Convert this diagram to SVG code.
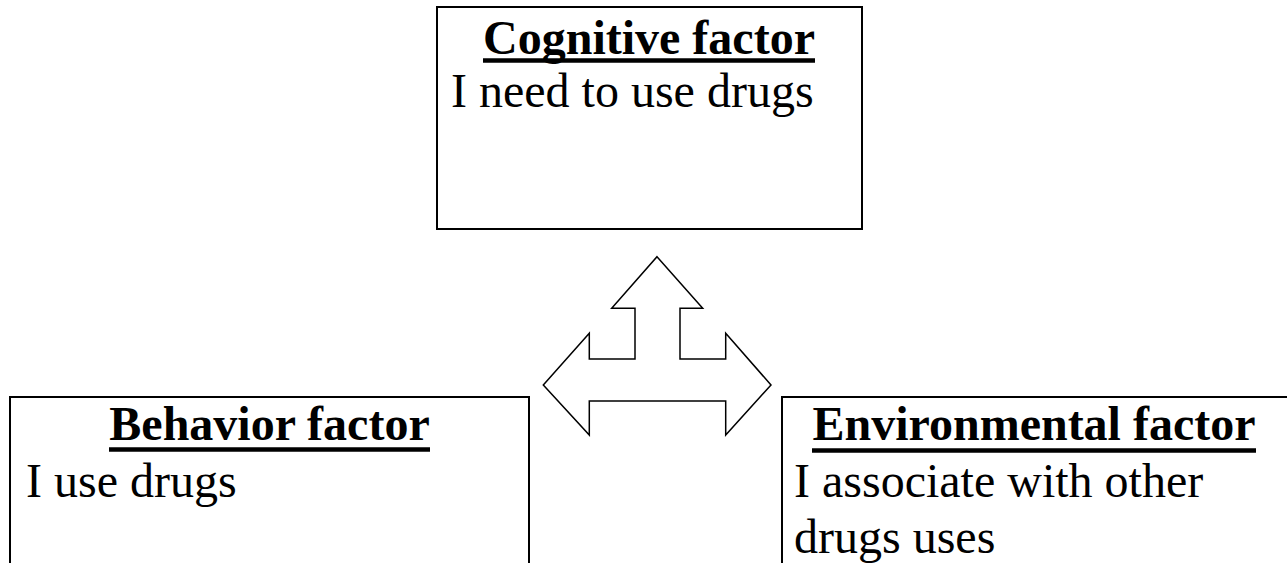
<svg xmlns="http://www.w3.org/2000/svg" width="1287" height="563" viewBox="0 0 1287 563">
<style>
.box{fill:#fff;stroke:#000;stroke-width:2}
.title{font-family:"Liberation Serif","Times New Roman",serif;font-weight:bold;font-size:48px;text-anchor:middle;fill:#000}
.body{font-family:"Liberation Serif","Times New Roman",serif;font-size:48px;fill:#000}
.ul{stroke:#000;stroke-width:4.5}
.arrow{fill:#fff;stroke:#000;stroke-width:1.5;stroke-linejoin:miter}
</style>
<rect width="1287" height="563" fill="#fff"/>
<g id="cognitive">
<rect class="box" x="437" y="7" width="425" height="222"/>
<text class="title" x="649" y="54">Cognitive factor</text>
<line class="ul" x1="483" y1="60.5" x2="815" y2="60.5"/>
<text class="body" x="451" y="107">I need to use drugs</text>
</g>
<g id="behavior">
<rect class="box" x="10" y="397" width="519" height="180"/>
<text class="title" x="269.5" y="440">Behavior factor</text>
<line class="ul" x1="109" y1="449.5" x2="430" y2="449.5"/>
<text class="body" x="26" y="497">I use drugs</text>
</g>
<g id="environmental">
<rect class="box" x="782" y="397" width="520" height="180"/>
<text class="title" x="1034" y="440">Environmental factor</text>
<line class="ul" x1="812" y1="450.5" x2="1256" y2="450.5"/>
<text class="body" x="794" y="497">I associate with other</text>
<text class="body" x="794" y="553">drugs uses</text>
</g>
<g id="connectors">
<polygon class="arrow" points="657,256.7 702.7,308.3 680,308.3 680,359 725.7,359 725.7,333.3 771,385 725.7,435 725.7,401 589.3,401 589.3,435 543.3,385 589.3,333.3 589.3,359 635,359 635,308.3 611.7,308.3"/>
</g>
</svg>
